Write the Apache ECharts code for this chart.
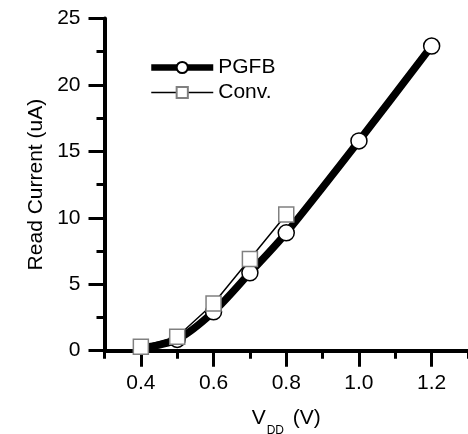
<!DOCTYPE html>
<html>
<head>
<meta charset="utf-8">
<script src="https://cdn.jsdelivr.net/npm/echarts@6/dist/echarts.min.js"></script>
<style>html,body{margin:0;padding:0;background:#fff;}#c{width:468px;height:434px;}</style>
</head>
<body>
<div id="c"></div>
<script>
// Data
var pgfbX = [0.4, 0.5, 0.6, 0.7, 0.8, 1.0, 1.2];
var pgfbY = [0.2, 0.85, 2.93, 5.86, 8.87, 15.79, 22.93];
var convX = [0.4, 0.5, 0.6, 0.7, 0.8];
var convY = [0.3, 1.05, 3.55, 6.9, 10.25];
var xMajorTicks = [0.4, 0.6, 0.8, 1.0, 1.2];
var seriesNames = ['PGFB', 'Conv.'];

var FONT = 'Liberation Sans, Arial, sans-serif';
var chart = echarts.init(document.getElementById('c'), null, {renderer: 'canvas'});

function pairs(xs, ys) {
  return xs.map(function (x, i) { return [x, ys[i]]; });
}
var pgfbData = pairs(pgfbX, pgfbY).map(function (p, i) {
  return i === 0 ? {value: p, symbol: 'none'} : {value: p};
});

chart.setOption({
  animation: false,
  backgroundColor: '#fff',
  grid: {left: 104.5, top: 18.5, right: 0, bottom: 83.3, containLabel: false, outerBoundsMode: 'none'},
  legend: {
    orient: 'vertical', left: 148, top: 57, itemGap: 4,
    itemWidth: 62, itemHeight: 14, padding: 0,
    textStyle: {fontFamily: FONT, fontSize: 21, color: '#000', padding: [0, 0, 0, 0]},
    data: [
      {name: seriesNames[0], lineStyle: {width: 6.5, color: '#000'}},
      {name: seriesNames[1], lineStyle: {width: 1.5, color: '#000'}}
    ]
  },
  xAxis: [{
    type: 'value', min: 0.3, max: 1.3, interval: 0.1,
    name: '{a|V}{s|DD}{a| (V)}', nameLocation: 'middle', nameGap: 56,
    nameTextStyle: {
      rich: {
        a: {fontFamily: FONT, fontSize: 21, color: '#000', verticalAlign: 'bottom', lineHeight: 22},
        s: {fontFamily: FONT, fontSize: 12, color: '#000', verticalAlign: 'bottom', lineHeight: 12, padding: [0, 3, -8, 1]}
      }
    },
    axisLine: {show: true, onZero: false, lineStyle: {color: '#000', width: 4}},
    axisTick: {show: true, length: 16, customValues: xMajorTicks, lineStyle: {color: '#000', width: 3}},
    axisLabel: {customValues: xMajorTicks, margin: 22, fontFamily: FONT, fontSize: 21, color: '#000',
      formatter: function (v) { return v.toFixed(1); }},
    splitLine: {show: false}
  }, {
    type: 'value', min: 0.3, max: 1.3, interval: 0.1, position: 'bottom',
    axisLine: {show: false},
    axisTick: {show: true, length: 8, lineStyle: {color: '#000', width: 3}},
    axisLabel: {show: false},
    splitLine: {show: false}
  }],
  yAxis: {
    type: 'value', min: 0, max: 25, interval: 5,
    name: 'Read Current (uA)', nameLocation: 'middle', nameGap: 58,
    nameTextStyle: {fontFamily: FONT, fontSize: 21, color: '#000'},
    axisLine: {show: true, lineStyle: {color: '#000', width: 4}},
    axisTick: {show: true, length: 16, lineStyle: {color: '#000', width: 3}},
    minorTick: {show: true, splitNumber: 2, length: 8, lineStyle: {color: '#000', width: 3}},
    axisLabel: {margin: 24, fontFamily: FONT, fontSize: 21, color: '#000'},
    splitLine: {show: false}
  },
  series: [{
    name: seriesNames[0], type: 'line', xAxisIndex: 0,
    data: pgfbData, smooth: 0.3,
    symbol: 'circle', symbolSize: 16,
    lineStyle: {color: '#000', width: 7.5},
    itemStyle: {color: '#fff', borderColor: '#000', borderWidth: 1.5},
    z: 2
  }, {
    name: seriesNames[1], type: 'line', xAxisIndex: 0,
    data: pairs(convX, convY),
    symbol: 'rect', symbolSize: 15,
    lineStyle: {color: '#000', width: 1.5},
    itemStyle: {color: '#fff', borderColor: '#808080', borderWidth: 1.5},
    z: 3
  }]
});
</script>
</body>
</html>
